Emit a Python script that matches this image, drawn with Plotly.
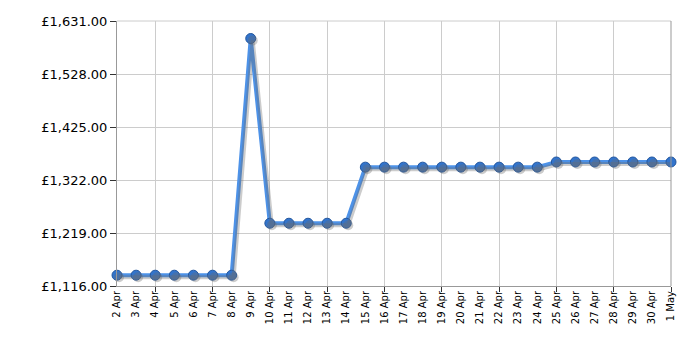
import plotly.graph_objects as go

dates = ["2 Apr", "3 Apr", "4 Apr", "5 Apr", "6 Apr", "7 Apr", "8 Apr", "9 Apr", "10 Apr",
         "11 Apr", "12 Apr", "13 Apr", "14 Apr", "15 Apr", "16 Apr", "17 Apr", "18 Apr",
         "19 Apr", "20 Apr", "21 Apr", "22 Apr", "23 Apr", "24 Apr", "25 Apr", "26 Apr",
         "27 Apr", "28 Apr", "29 Apr", "30 Apr", "1 May"]
prices = [1137, 1137, 1137, 1137, 1137, 1137, 1137, 1597, 1238,
          1238, 1238, 1238, 1238, 1347, 1347, 1347, 1347,
          1347, 1347, 1347, 1347, 1347, 1347, 1357, 1357,
          1357, 1357, 1357, 1357, 1357]
y_ticks = [1116, 1219, 1322, 1425, 1528, 1631]
y_tick_text = ["£1,116.00", "£1,219.00", "£1,322.00", "£1,425.00", "£1,528.00", "£1,631.00"]
grid_every = 3

idx = list(range(len(dates)))
minor_vals = [i for i in idx if (i - 2) % grid_every == 0]

ymin, ymax = y_ticks[0], y_ticks[-1]
xmin, xmax = 0, len(dates) - 1
# shadow offset (about 2px right and 2px down)
plot_w = 700 - 117 - 29
plot_h = 350 - 21 - 64
dx = 2.0 * (xmax - xmin) / plot_w
dy = 2.0 * (ymax - ymin) / plot_h

fig = go.Figure()
fig.add_trace(go.Scatter(
    x=idx, y=prices, mode="lines+markers", xaxis="x2", yaxis="y2", cliponaxis=False,
    line=dict(color="rgba(110,110,110,0.35)", width=4),
    marker=dict(size=10, color="rgba(110,110,110,0.35)", line=dict(width=0)),
    hoverinfo="skip", showlegend=False))
fig.add_trace(go.Scatter(
    x=idx, y=prices, mode="lines+markers", cliponaxis=False,
    line=dict(color="#4d92e8", width=4),
    marker=dict(size=10, color="#3274cc", line=dict(color="#22569e", width=1)),
    showlegend=False))

fig.update_layout(
    width=700, height=350,
    margin=dict(l=117, r=29, t=21, b=64),
    paper_bgcolor="white", plot_bgcolor="white",
    font=dict(family="DejaVu Sans, Verdana, sans-serif", color="#000"),
    xaxis=dict(range=[xmin, xmax], tickvals=idx, ticktext=dates, tickangle=-90,
               ticks="", showgrid=False, zeroline=False,
               showline=True, linecolor="#999", linewidth=1,
               tickfont=dict(size=10),
               minor=dict(tickvals=minor_vals, ticks="outside", ticklen=5, tickcolor="#333",
                          showgrid=True, gridcolor="#cccccc", gridwidth=1)),
    yaxis=dict(range=[ymin, ymax], tickvals=y_ticks, ticktext=y_tick_text,
               ticks="outside", ticklen=6, tickcolor="#333",
               showgrid=True, gridcolor="#cccccc", zeroline=False,
               showline=True, linecolor="#999", linewidth=1,
               tickfont=dict(size=13), mirror=False),
    xaxis2=dict(range=[xmin - dx, xmax - dx], overlaying="x", visible=False),
    yaxis2=dict(range=[ymin + dy, ymax + dy], overlaying="y", visible=False),
    shapes=[dict(type="line", xref="paper", yref="paper", x0=0, x1=1, y0=1, y1=1,
                 line=dict(color="#cccccc", width=1)),
            dict(type="line", xref="paper", yref="paper", x0=1, x1=1, y0=0, y1=1,
                 line=dict(color="#999", width=1))],
)

fig.write_html("out.html")
